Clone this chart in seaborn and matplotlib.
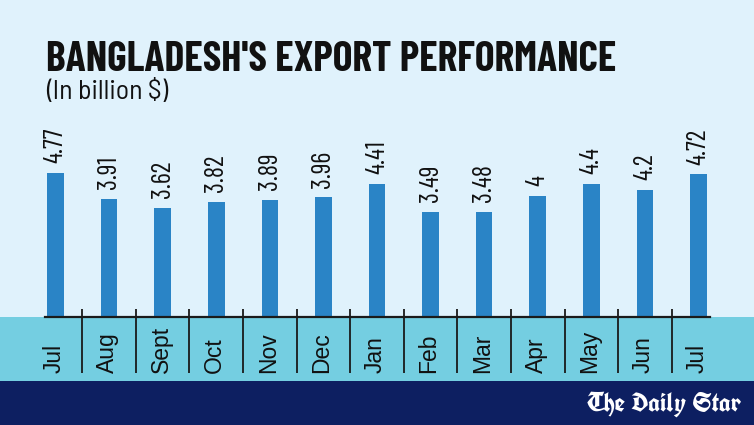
import matplotlib
matplotlib.use("Agg")
import matplotlib.pyplot as plt
import matplotlib.transforms as mtransforms
from matplotlib.patches import Rectangle
import seaborn as sns
import pandas as pd

# ---- data ----
months = ["Jul", "Aug", "Sept", "Oct", "Nov", "Dec", "Jan", "Feb", "Mar", "Apr", "May", "Jun", "Jul"]
keys = ["Jul-1", "Aug", "Sept", "Oct", "Nov", "Dec", "Jan", "Feb", "Mar", "Apr", "May", "Jun", "Jul-2"]
values = [4.77, 3.91, 3.62, 3.82, 3.89, 3.96, 4.41, 3.49, 3.48, 4.0, 4.4, 4.2, 4.72]
value_labels = ["4.77", "3.91", "3.62", "3.82", "3.89", "3.96", "4.41", "3.49", "3.48", "4", "4.4", "4.2", "4.72"]
title = "BANGLADESH'S EXPORT PERFORMANCE"
subtitle = "(In billion $)"
brand = "The Daily Star"

# ---- style ----
BG = "#E0F2FC"
BAR = "#2A84C6"
CYAN = "#74CEE1"
NAVY = "#0D1F61"
INK = "#111111"
COND = ["Barlow Condensed", "DejaVu Sans"]
SEMI = ["Barlow Semi Condensed", "DejaVu Sans"]
REG = ["Liberation Sans", "DejaVu Sans"]

sns.set_theme(style="white")
plt.rcParams["font.family"] = REG

W, H = 754, 425
def fx(px):
    return px / W
def fy(py):
    return 1 - py / H

fig = plt.figure(figsize=(W / 100, H / 100), dpi=100, facecolor=BG)

# background bands (behind everything)
fig.patches.append(Rectangle((0, fy(381)), 1, (381 - 317) / H, transform=fig.transFigure,
                             facecolor=CYAN, edgecolor="none", zorder=-2))
fig.patches.append(Rectangle((0, 0), 1, fy(381), transform=fig.transFigure,
                             facecolor=NAVY, edgecolor="none", zorder=-2))

ax = fig.add_axes([fx(45), fy(317), fx(710) - fx(45), (317 - 100) / H])
ax.set_facecolor("none")

df = pd.DataFrame({"key": keys, "value": values})
sns.barplot(data=df, x="key", y="value", color=BAR, saturation=1, width=0.31,
            edgecolor="none", linewidth=0, ax=ax)

ax.set_xlim(-0.196, 12.215)
ax.set_ylim(0, 217 / 30.2)
ax.set_xlabel("")
ax.set_ylabel("")
ax.set_xticks([])
ax.set_yticks([])
for s in ["top", "left", "right"]:
    ax.spines[s].set_visible(False)
ax.spines["bottom"].set_color("#1a1a1a")
ax.spines["bottom"].set_linewidth(1.6)

# value labels
for i, (v, lab) in enumerate(zip(values, value_labels)):
    ax.annotate(lab, (i, v), xytext=(0, 7), textcoords="offset points",
                rotation=90, ha="center", va="bottom", fontsize=19,
                family=COND, color=INK)

blend = mtransforms.blended_transform_factory(ax.transData, fig.transFigure)
# separators
ax.vlines([i + 0.5 for i in range(len(months) - 1)], fy(373), fy(309),
          transform=blend, color="#1a1a1a", lw=1.3, clip_on=False)
# month labels
for i, m in enumerate(months):
    ax.text(i - 0.03, fy(373), m, transform=blend, rotation=90, ha="center", va="bottom",
            fontsize=16.5, family=REG, color=INK)

# titles
fig.text(fx(46), fy(71), title, fontsize=30, fontweight="bold", family=COND,
         color=INK, va="baseline", ha="left")
fig.text(fx(46), fy(99), subtitle, fontsize=20, family=SEMI, color=INK,
         va="baseline", ha="left")
fig.text(fx(741), fy(412), brand, fontsize=19, fontweight="bold",
         family=["UnifrakturCook", "DejaVu Serif"],
         color="white", va="baseline", ha="right")

fig.savefig("out.png", dpi=100, facecolor=BG)
